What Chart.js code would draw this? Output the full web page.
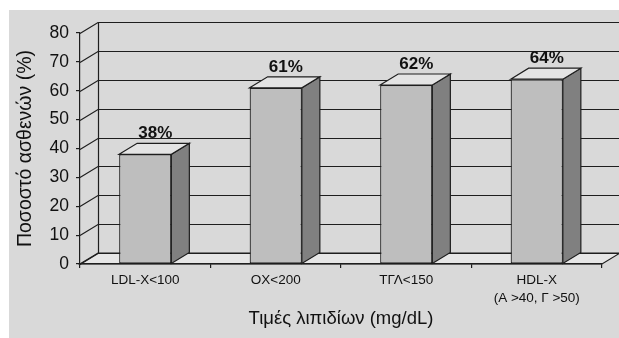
<!DOCTYPE html>
<html>
<head>
<meta charset="utf-8">
<script src="https://cdn.jsdelivr.net/npm/chart.js@4/dist/chart.umd.min.js"></script>
<style>
  html, body { margin: 0; padding: 0; background: #ffffff; }
  #wrap { width: 619px; height: 338px; }
</style>
</head>
<body>
<div id="wrap"><canvas id="c" width="619" height="338"></canvas></div>
<script>
// Lipid targets reached, percent of patients
const categories = ['LDL-X<100', 'ΟΧ<200', 'ΤΓΛ<150', ['HDL-X', '(Α >40, Γ >50)']];
const percentages = [38, 61, 62, 64];
const yMin = 0;
const yMax = 80;
const yStep = 10;

// Depth of the pseudo-3D box (pixels)
const DX = 18;
const DY = 11;

const INK = '#1e1e1e';
const PANEL = '#d9d9d9';

const depthPlugin = {
  id: 'depth3d',
  beforeDraw(chart) {
    const ctx = chart.ctx;
    const { left, right, top, bottom } = chart.chartArea;
    const ys = chart.scales.y;
    ctx.save();
    // grey panel behind everything
    ctx.fillStyle = PANEL;
    ctx.fillRect(9, 10, chart.width - 9, chart.height - 10);

    ctx.strokeStyle = INK;
    ctx.lineWidth = 1.2;

    // floor
    ctx.beginPath();
    ctx.moveTo(left, bottom);
    ctx.lineTo(right, bottom);
    ctx.lineTo(right + DX, bottom - DY);
    ctx.lineTo(left + DX, bottom - DY);
    ctx.closePath();
    ctx.fillStyle = '#e6e6e6';
    ctx.fill();
    ctx.stroke();

    // back-wall gridlines and side-wall diagonals
    for (let v = yMin; v <= yMax; v += yStep) {
      const py = Math.round(ys.getPixelForValue(v)) + 0.5;
      ctx.beginPath();
      ctx.moveTo(left, py);
      ctx.lineTo(left + DX, py - DY);
      ctx.lineTo(right + DX, py - DY);
      ctx.stroke();
    }
    // back-wall left edge
    ctx.beginPath();
    ctx.moveTo(left + DX + 0.5, Math.round(top) - DY + 0.5);
    ctx.lineTo(left + DX + 0.5, Math.round(bottom) - DY + 0.5);
    ctx.stroke();
    ctx.restore();
  },
  afterDatasetsDraw(chart) {
    const ctx = chart.ctx;
    const meta = chart.getDatasetMeta(0);
    ctx.save();
    ctx.strokeStyle = INK;
    ctx.lineWidth = 1.2;
    ctx.lineJoin = 'miter';
    meta.data.forEach((bar, i) => {
      const { x, y, base, width } = bar.getProps(['x', 'y', 'base', 'width'], true);
      const l = x - width / 2;
      const r = x + width / 2;
      // side face
      ctx.beginPath();
      ctx.moveTo(r, y);
      ctx.lineTo(r + DX, y - DY);
      ctx.lineTo(r + DX, base - DY);
      ctx.lineTo(r, base);
      ctx.closePath();
      ctx.fillStyle = '#808080';
      ctx.fill();
      ctx.stroke();
      // top face
      ctx.beginPath();
      ctx.moveTo(l, y);
      ctx.lineTo(l + DX, y - DY);
      ctx.lineTo(r + DX, y - DY);
      ctx.lineTo(r, y);
      ctx.closePath();
      ctx.fillStyle = '#e4e4e4';
      ctx.fill();
      ctx.stroke();
      // value label
      ctx.fillStyle = '#111111';
      ctx.font = 'bold 17px "Liberation Sans", Arial, sans-serif';
      ctx.textAlign = 'center';
      ctx.textBaseline = 'alphabetic';
      ctx.fillText(percentages[i] + '%', x + DX / 2 + 1, y - DY - 5);
    });
    ctx.restore();
  }
};

new Chart(document.getElementById('c'), {
  type: 'bar',
  data: {
    labels: categories,
    datasets: [{
      data: percentages,
      backgroundColor: '#bebebe',
      borderColor: INK,
      borderWidth: 1.2,
      borderSkipped: false,
      categoryPercentage: 1.0,
      barPercentage: 0.4
    }]
  },
  options: {
    responsive: false,
    devicePixelRatio: 1,
    animation: false,
    layout: { padding: { left: 9, right: 17, top: 33, bottom: 0 } },
    plugins: {
      legend: { display: false },
      tooltip: { enabled: false }
    },
    scales: {
      x: {
        type: 'category',
        offset: true,
        afterFit(scale) { scale.height = 74; },
        grid: {
          display: true,
          drawOnChartArea: false,
          drawTicks: true,
          tickLength: 4,
          offset: true,
          color: INK,
          lineWidth: 1.2
        },
        border: { display: true, color: INK, width: 1.2 },
        ticks: {
          autoSkip: false,
          maxRotation: 0,
          minRotation: 0,
          padding: 4,
          color: '#111111',
          font: { family: '"Liberation Sans", Arial, sans-serif', size: 13.5, lineHeight: 1.3 }
        },
        title: {
          display: true,
          text: 'Τιμές λιπιδίων (mg/dL)',
          color: '#111111',
          padding: { top: 0, bottom: 8 },
          font: { family: '"Liberation Sans", Arial, sans-serif', size: 18.5 }
        }
      },
      y: {
        min: yMin,
        max: yMax,
        afterFit(scale) { scale.width = 71; },
        grid: {
          display: true,
          drawOnChartArea: false,
          drawTicks: true,
          tickLength: 4,
          color: INK,
          lineWidth: 1.2
        },
        border: { display: true, color: INK, width: 1.2 },
        ticks: {
          stepSize: yStep,
          padding: 7,
          color: '#111111',
          font: { family: '"Liberation Sans", Arial, sans-serif', size: 17.5 }
        },
        title: {
          display: true,
          text: 'Ποσοστό ασθενών (%)',
          color: '#111111',
          padding: { top: 5, bottom: 0 },
          font: { family: '"Liberation Sans", Arial, sans-serif', size: 19.5 }
        }
      }
    }
  },
  plugins: [depthPlugin]
});
</script>
</body>
</html>
